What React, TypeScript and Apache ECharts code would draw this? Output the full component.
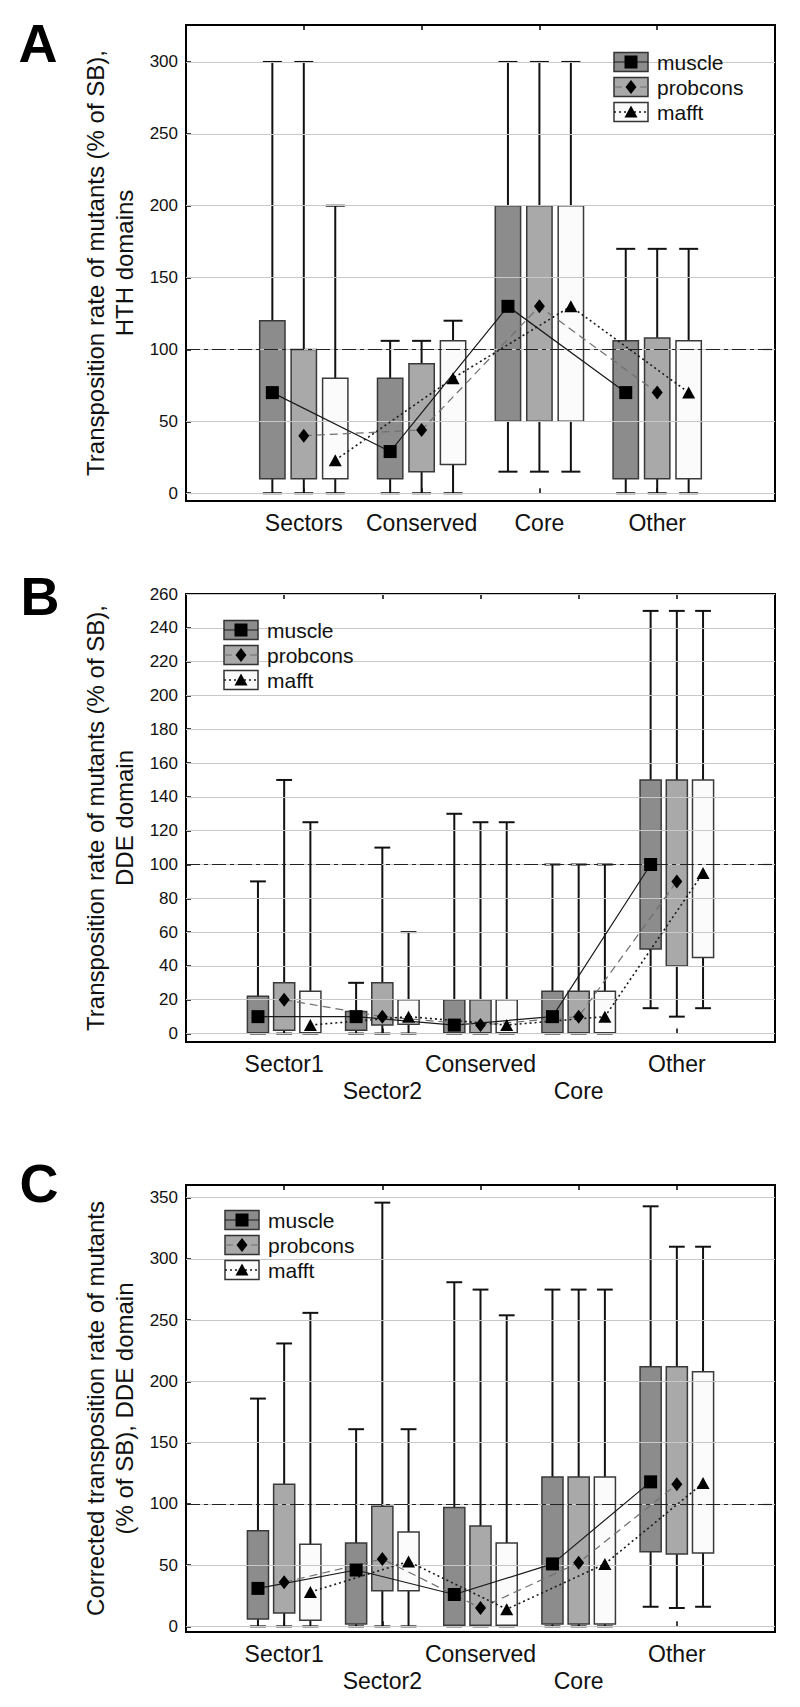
import React, { useEffect, useRef } from 'react';
import * as echarts from 'echarts';

// ---------- data ----------
const methods = ['muscle', 'probcons', 'mafft'];

const categoriesA = ['Sectors', 'Conserved', 'Core', 'Other'];
const categoriesBC = ['Sector1', 'Sector2', 'Conserved', 'Core', 'Other'];

const ticksA = [0, 50, 100, 150, 200, 250, 300];
const ticksB = [0, 20, 40, 60, 80, 100, 120, 140, 160, 180, 200, 220, 240, 260];
const ticksC = [0, 50, 100, 150, 200, 250, 300, 350];

// each entry: [whisker low, box low, box high, whisker high]
const muscleA = [[0, 10, 120, 300], [0, 10, 80, 106], [15, 50, 200, 300], [0, 10, 106, 170]];
const probconsA = [[0, 10, 100, 300], [0, 15, 90, 106], [15, 50, 200, 300], [0, 10, 108, 170]];
const mafftA = [[0, 10, 80, 200], [0, 20, 106, 120], [15, 50, 200, 300], [0, 10, 106, 170]];
const muscleAMid = [70, 29, 130, 70];
const probconsAMid = [40, 44, 130, 70];
const mafftAMid = [23, 80, 130, 70];

const muscleB = [[0, 0.5, 22, 90], [0, 2, 13, 30], [0, 0.5, 20, 130], [0, 0.5, 25, 100], [15, 50, 150, 250]];
const probconsB = [[0, 2, 30, 150], [0, 5, 30, 110], [0, 0.5, 20, 125], [0, 0.5, 25, 100], [10, 40, 150, 250]];
const mafftB = [[0, 0.5, 25, 125], [0, 5.5, 20, 60], [0, 0.5, 20, 125], [0, 0.5, 25, 100], [15, 45, 150, 250]];
const muscleBMid = [10, 10, 5, 10, 100];
const probconsBMid = [20, 10, 5, 10, 90];
const mafftBMid = [5, 10, 5, 10, 95];

const muscleC = [[0, 6, 78, 186], [0, 2, 68, 161], [0, 1, 97, 281], [0, 2, 122, 275], [16, 61, 212, 343]];
const probconsC = [[0, 11, 116, 231], [0, 29, 98, 346], [0, 1, 82, 275], [0, 2, 122, 275], [15, 59, 212, 310]];
const mafftC = [[0, 5, 67, 256], [0, 29, 77, 161], [0, 1, 68, 254], [0, 2, 122, 275], [16, 60, 208, 310]];
const muscleCMid = [31, 46, 26, 51, 118];
const probconsCMid = [36, 55, 15, 52, 116];
const mafftCMid = [28, 53, 14, 51, 117];

const yNameA = 'Transposition rate of mutants (% of SB),\nHTH domains';
const yNameB = 'Transposition rate of mutants (% of SB),\nDDE domain';
const yNameC = 'Corrected transposition rate of mutants\n(% of SB), DDE domain';

// ---------- styles ----------
const FONT = "'Liberation Sans', Arial, Helvetica, sans-serif";
const TEXT = '#111';
const boxFill = ['#8c8c8c', '#a9a9a9', '#fbfbfb'];
const lineColor = ['#1a1a1a', '#707070', '#1a1a1a'];
const lineDash: any[] = ['solid', [8, 5], [2, 3]];
const lineWidths = [1.2, 1.2, 1.6];
const symbols = ['rect', 'diamond', 'triangle'];
const symbolSizes: any[] = [13, [11, 14], [13, 12]];
const OFFSET = 0.267;
const BOXW = 0.215;

type Panel = {
  cats: string[];
  ticks: number[];
  boxes: number[][][];
  mids: number[][];
  yMin: number;
  yMax: number;
  top: number;
  height: number;
  yName: string;
  stagger: boolean;
  legendX: number;
  legendY: number;
  letter: string;
  letterX: number;
  letterY: number;
};

const panels: Panel[] = [
  {
    cats: categoriesA, ticks: ticksA, boxes: [muscleA, probconsA, mafftA], mids: [muscleAMid, probconsAMid, mafftAMid],
    yMin: -5.4, yMax: 325.7, top: 25, height: 476, yName: yNameA, stagger: false,
    legendX: 614, legendY: 62, letter: 'A', letterX: 38, letterY: 43,
  },
  {
    cats: categoriesBC, ticks: ticksB, boxes: [muscleB, probconsB, mafftB], mids: [muscleBMid, probconsBMid, mafftBMid],
    yMin: -5, yMax: 260, top: 594, height: 448, yName: yNameB, stagger: true,
    legendX: 224, legendY: 630, letter: 'B', letterX: 40, letterY: 596,
  },
  {
    cats: categoriesBC, ticks: ticksC, boxes: [muscleC, probconsC, mafftC], mids: [muscleCMid, probconsCMid, mafftCMid],
    yMin: -4.6, yMax: 360.4, top: 1185, height: 447, yName: yNameC, stagger: true,
    legendX: 225, legendY: 1220, letter: 'C', letterX: 39, letterY: 1183,
  },
];

function makeRenderItem(fill: string) {
  return (params: any, api: any) => {
    const x = api.value(0);
    const pLow = api.coord([x, api.value(1)]);
    const pQ1 = api.coord([x, api.value(2)]);
    const pQ3 = api.coord([x, api.value(3)]);
    const pHigh = api.coord([x, api.value(4)]);
    const bw = api.size([BOXW, 0])[0];
    const cw = bw * 0.75;
    const cx = pLow[0];
    const ws = { stroke: '#111', lineWidth: 2 };
    return {
      type: 'group',
      children: [
        { type: 'line', shape: { x1: cx, y1: pLow[1], x2: cx, y2: pQ1[1] }, style: ws },
        { type: 'line', shape: { x1: cx - cw / 2, y1: pLow[1], x2: cx + cw / 2, y2: pLow[1] }, style: ws },
        { type: 'line', shape: { x1: cx, y1: pQ3[1], x2: cx, y2: pHigh[1] }, style: ws },
        { type: 'line', shape: { x1: cx - cw / 2, y1: pHigh[1], x2: cx + cw / 2, y2: pHigh[1] }, style: ws },
        {
          type: 'rect',
          shape: { x: cx - bw / 2, y: pQ3[1], width: bw, height: pQ1[1] - pQ3[1] },
          style: { fill, stroke: '#3a3a3a', lineWidth: 1.5 },
        },
      ],
    };
  };
}

function legendGraphics(p: Panel) {
  const out: any[] = [];
  methods.forEach((m, i) => {
    const yc = p.legendY + i * 25;
    const x0 = p.legendX;
    const cx = x0 + 17;
    out.push({
      type: 'rect', z: 100,
      shape: { x: x0, y: yc - 9.5, width: 34, height: 19 },
      style: { fill: boxFill[i], stroke: '#333', lineWidth: 1.5 },
    });
    out.push({
      type: 'line', z: 101,
      shape: { x1: x0, y1: yc, x2: x0 + 34, y2: yc },
      style: { stroke: lineColor[i], lineWidth: lineWidths[i], lineDash: i === 0 ? null : lineDash[i] },
    });
    if (i === 0) {
      out.push({ type: 'rect', z: 102, shape: { x: cx - 6.5, y: yc - 6.5, width: 13, height: 13 }, style: { fill: '#000' } });
    } else if (i === 1) {
      out.push({ type: 'polygon', z: 102, shape: { points: [[cx, yc - 7], [cx + 5.5, yc], [cx, yc + 7], [cx - 5.5, yc]] }, style: { fill: '#000' } });
    } else {
      out.push({ type: 'polygon', z: 102, shape: { points: [[cx, yc - 6.5], [cx + 6.5, yc + 5.5], [cx - 6.5, yc + 5.5]] }, style: { fill: '#000' } });
    }
    out.push({
      type: 'text', z: 102,
      style: { text: m, x: x0 + 43, y: yc, fontSize: 21, fontFamily: FONT, fill: TEXT, verticalAlign: 'middle', align: 'left' },
    });
  });
  out.push({
    type: 'text', z: 102,
    style: {
      text: p.letter, x: p.letterX, y: p.letterY, fontSize: 54, fontWeight: 'bold', fontFamily: FONT,
      fill: '#000', align: 'center', verticalAlign: 'middle',
    },
  });
  return out;
}

function buildOption() {
  const grid: any[] = [];
  const xAxis: any[] = [];
  const yAxis: any[] = [];
  const series: any[] = [];
  let graphic: any[] = [];

  panels.forEach((p, gi) => {
    const n = p.cats.length;
    const catVals = p.cats.map((_, k) => k + 1);
    grid.push({
      left: 186, right: 25, top: p.top, height: p.height,
      show: true, borderColor: '#000', borderWidth: 2, backgroundColor: 'transparent',
    });
    xAxis.push({
      type: 'value', gridIndex: gi, min: 0, max: n + 1, position: 'bottom',
      axisLine: { show: false }, splitLine: { show: false },
      axisTick: { show: true, inside: true, length: 5, customValues: catVals, lineStyle: { color: '#000', width: 1.5 } },
      axisLabel: {
        show: true, customValues: catVals, margin: 8, fontSize: 23, lineHeight: 27, fontFamily: FONT, color: TEXT,
        formatter: (v: number) => {
          const k = Math.round(v) - 1;
          const name = p.cats[k] ?? '';
          return p.stagger && k % 2 === 1 ? '\n' + name : name;
        },
      },
    });
    xAxis.push({
      type: 'value', gridIndex: gi, min: 0, max: n + 1, position: 'top',
      axisLine: { show: false }, splitLine: { show: false }, axisLabel: { show: false },
      axisTick: { show: true, inside: true, length: 5, customValues: catVals, lineStyle: { color: '#000', width: 1.5 } },
    });
    yAxis.push({
      type: 'value', gridIndex: gi, min: p.yMin, max: p.yMax,
      axisLine: { show: false }, splitLine: { show: false },
      axisTick: { show: true, inside: true, length: 5, customValues: p.ticks, lineStyle: { color: '#000', width: 1.5 } },
      axisLabel: { show: true, customValues: p.ticks, margin: 8, fontSize: 17, fontFamily: FONT, color: TEXT },
      name: p.yName, nameLocation: 'middle', nameGap: 47, nameRotate: 90,
      nameTextStyle: { fontSize: 24, lineHeight: 29, fontFamily: FONT, color: TEXT, align: 'center' },
    });

    // grid lines + reference line at 100
    series.push({
      type: 'line', xAxisIndex: gi * 2, yAxisIndex: gi, data: [], z: 1, silent: true,
      markLine: {
        silent: true, symbol: ['none', 'none'], label: { show: false }, animation: false,
        data: [
          ...p.ticks.map((v) => ({ yAxis: v, lineStyle: { color: '#c8c8c8', width: 1, type: 'solid' } })),
          { yAxis: 100, lineStyle: { color: '#222', width: 1.2, type: [14, 4, 4, 4] } },
        ],
      },
    });

    methods.forEach((m, j) => {
      const off = (j - 1) * OFFSET;
      series.push({
        type: 'custom', name: m, xAxisIndex: gi * 2, yAxisIndex: gi, z: 2, silent: true,
        renderItem: makeRenderItem(boxFill[j]),
        encode: { x: 0, y: [1, 2, 3, 4] },
        data: p.boxes[j].map((b, k) => [k + 1 + off, b[0], b[1], b[2], b[3]]),
      });
    });
    methods.forEach((m, j) => {
      const off = (j - 1) * OFFSET;
      series.push({
        type: 'line', name: m + ' line', xAxisIndex: gi * 2, yAxisIndex: gi, z: 5, silent: true,
        symbol: symbols[j], symbolSize: symbolSizes[j], showSymbol: true,
        itemStyle: { color: '#000' },
        lineStyle: { color: lineColor[j], width: lineWidths[j], type: lineDash[j] },
        data: p.mids[j].map((v, k) => [k + 1 + off, v]),
      });
    });
    graphic = graphic.concat(legendGraphics(p));
  });

  return {
    animation: false,
    backgroundColor: '#fff',
    grid, xAxis, yAxis, series,
    graphic: { elements: graphic },
  };
}

export default function App() {
  const ref = useRef<HTMLDivElement>(null);
  useEffect(() => {
    document.body.style.margin = '0';
    if (!ref.current) return;
    const chart = echarts.init(ref.current, undefined, { renderer: 'svg' });
    chart.setOption(buildOption() as any);
    return () => chart.dispose();
  }, []);
  return <div ref={ref} style={{ width: 800, height: 1707 }} />;
}
